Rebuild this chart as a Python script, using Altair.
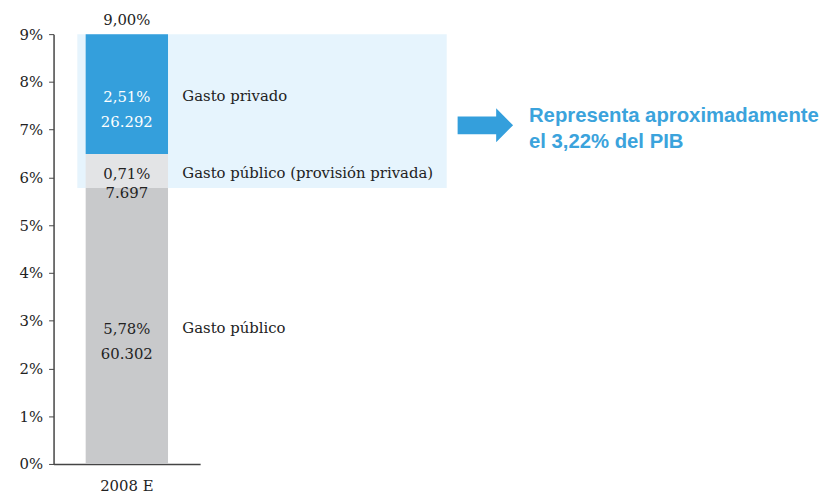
import altair as alt
import pandas as pd

# ---- data ----
categories = ["Gasto público", "Gasto público (provisión privada)", "Gasto privado"]
pct_values = [5.78, 0.71, 2.51]
pct_labels = ["5,78%", "0,71%", "2,51%"]
amount_labels = ["60.302", "7.697", "26.292"]
colors = ["#C8C9CB", "#E3E4E6", "#349FDC"]
text_colors = ["#222222", "#222222", "#FFFFFF"]
year = "2008 E"
total_label = "9,00%"
y_ticks = [0, 1, 2, 3, 4, 5, 6, 7, 8, 9]
note_lines = ["Representa aproximadamente", "el 3,22% del PIB"]

rows = []
start = 0.0
for i, c in enumerate(categories):
    rows.append({
        "cat": c, "year": year, "y0": start, "y1": start + pct_values[i],
        "mid": start + pct_values[i] / 2, "pct": pct_labels[i],
        "amt": amount_labels[i], "order": i, "tcolor": text_colors[i],
    })
    start += pct_values[i]
df = pd.DataFrame(rows)
total = start

SERIF = "DejaVu Serif"
FS = 15
W, H = 148, 434

yscale = alt.Scale(domain=[0, 9], nice=False, zero=True)
xenc = alt.X("year:N", title=None,
             scale=alt.Scale(paddingInner=0, paddingOuter=0.39),
             axis=alt.Axis(labelAngle=0, ticks=False, grid=False, labelFont=SERIF, labelFontSize=FS,
                           labelColor="#222", labelPadding=15, domainColor="#444",
                           domainWidth=1.5))

base = alt.Chart(df)

# highlight box behind private-provision parts
box = alt.Chart(df[df["order"] >= 1]).mark_rect(color="#E6F4FD").encode(
    x=alt.value(24), x2=alt.value(397),
    y=alt.Y("min(y0):Q", scale=yscale), y2="max(y1):Q",
)

bars = base.mark_bar().encode(
    x=xenc,
    y=alt.Y("y0:Q", scale=yscale, title=None,
            axis=alt.Axis(values=y_ticks, labelExpr="datum.value + '%'", grid=False,
                          labelFont=SERIF, labelFontSize=FS, labelColor="#222",
                          tickSize=5, tickColor="#444", domainColor="#444",
                          domainWidth=1.5, labelPadding=6)),
    y2="y1:Q",
    color=alt.Color("cat:N", scale=alt.Scale(domain=categories, range=colors), legend=None),
)

pct_text = base.mark_text(font=SERIF, fontSize=FS, dy=3).encode(
    x=xenc, y=alt.Y("mid:Q", scale=yscale), text="pct:N",
    color=alt.Color("tcolor:N", scale=None),
)
amt_text = alt.Chart(df[df["order"] != 1]).mark_text(font=SERIF, fontSize=FS, dy=28).encode(
    x=xenc, y=alt.Y("mid:Q", scale=yscale), text="amt:N",
    color=alt.Color("tcolor:N", scale=None),
)
amt_text_mid = alt.Chart(df[df["order"] == 1]).mark_text(font=SERIF, fontSize=FS, dy=22).encode(
    x=xenc, y=alt.Y("mid:Q", scale=yscale), text="amt:N",
    color=alt.Color("tcolor:N", scale=None),
)
cat_text = base.mark_text(font=SERIF, fontSize=FS, align="left", dy=2, color="#222").encode(
    x=alt.value(130), y=alt.Y("mid:Q", scale=yscale), text="cat:N",
)
total_df = pd.DataFrame({"year": [year], "total": [total], "lab": [total_label]})
total_text = alt.Chart(total_df).mark_text(font=SERIF, fontSize=FS, dy=-14, color="#222").encode(
    x=xenc, y=alt.Y("total:Q", scale=yscale), text="lab:N",
)

arrow_path = "M-1,-0.32 L0.39,-0.32 L0.39,-0.61 L1,0 L0.39,0.61 L0.39,0.32 L-1,0.32 Z"
arrow = alt.Chart(pd.DataFrame({"a": [1]})).mark_point(
    shape=arrow_path, filled=True, color="#349FDC", opacity=1, size=3136, strokeWidth=0
).encode(x=alt.value(436), y=alt.value(92))

note_df = pd.DataFrame({"t": [note_lines]})
note = alt.Chart(note_df).mark_text(
    font="Liberation Sans", fontSize=20.5, fontWeight="bold", color="#3BA3DC",
    align="left", baseline="middle", lineHeight=26
).encode(x=alt.value(480), y=alt.value(83), text="t")

chart = alt.layer(box, bars, pct_text, amt_text, amt_text_mid, cat_text, total_text, arrow, note).properties(
    width=W, height=H,
    background="white",
    autosize=alt.AutoSizeParams(type="none"),
    padding={"left": 46, "top": 24, "right": 636, "bottom": 34},
).configure_view(stroke="transparent", strokeWidth=0)

chart.save("out.html", embed_options={"renderer": "svg", "actions": False})
